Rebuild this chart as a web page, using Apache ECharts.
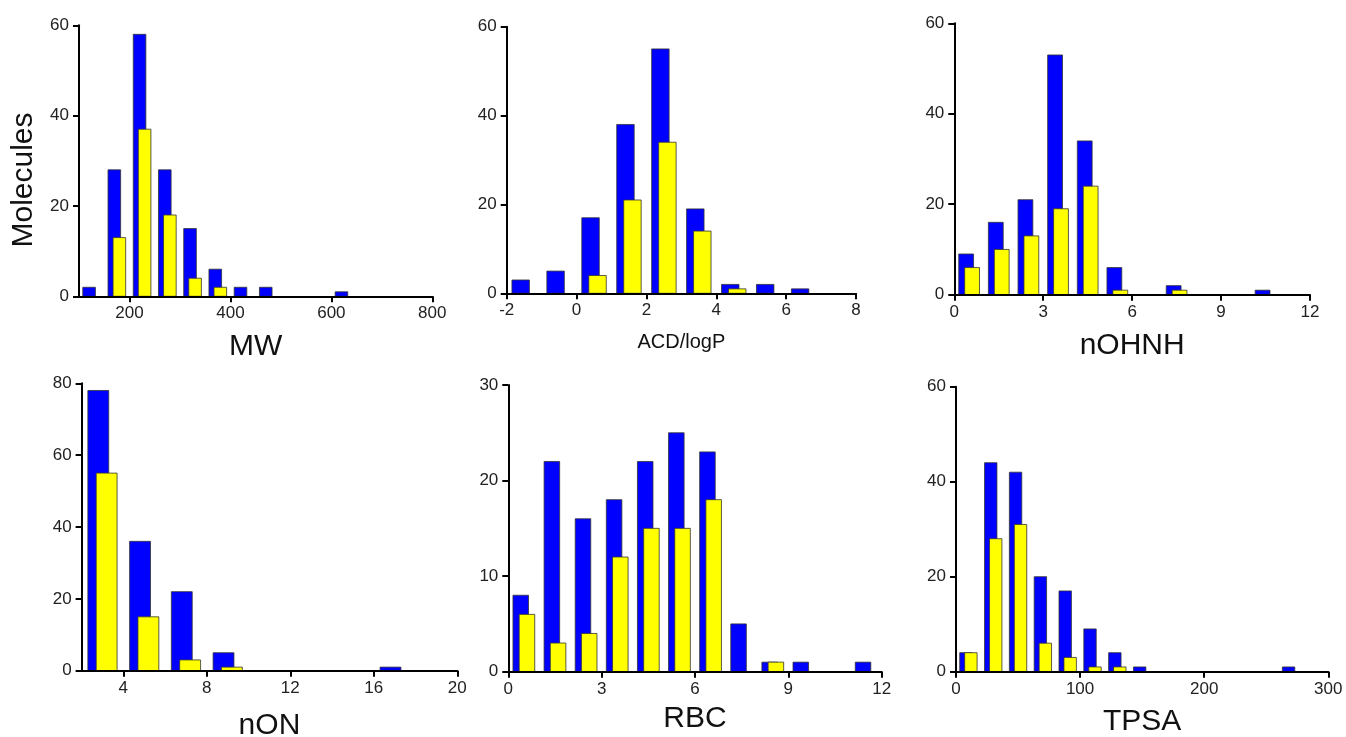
<!DOCTYPE html>
<html>
<head>
<meta charset="utf-8">
<script src="https://cdn.jsdelivr.net/npm/echarts@6/dist/echarts.min.js"></script>
<style>
html,body{margin:0;padding:0;background:#fff;}
#chart{width:1346px;height:737px;}
</style>
</head>
<body>
<div id="chart"></div>
<script>
// ---- data (bin centres, blue counts, yellow counts, tick labels) ----
const mwBins    = [125, 175, 225, 275, 325, 375, 425, 475, 625];
const mwBlue    = [2, 28, 58, 28, 15, 6, 2, 2, 1];
const mwYellow  = [null, 13, 37, 18, 4, 2, null, null, null];
const mwTicks   = [200, 400, 600, 800];

const logpBins   = [-1.5, -0.5, 0.5, 1.5, 2.5, 3.5, 4.5, 5.5, 6.5];
const logpBlue   = [3, 5, 17, 38, 55, 19, 2, 2, 1];
const logpYellow = [null, null, 4, 21, 34, 14, 1, null, null];
const logpTicks  = [-2, 0, 2, 4, 6, 8];

const ohnhBins   = [0.5, 1.5, 2.5, 3.5, 4.5, 5.5, 7.5, 10.5];
const ohnhBlue   = [9, 16, 21, 53, 34, 6, 2, 1];
const ohnhYellow = [6, 10, 13, 19, 24, 1, 1, null];
const ohnhTicks  = [0, 3, 6, 9, 12];

const onBins   = [3, 5, 7, 9, 17];
const onBlue   = [78, 36, 22, 5, 1];
const onYellow = [55, 15, 3, 1, null];
const onTicks  = [4, 8, 12, 16, 20];

const rbcBins   = [0.5, 1.5, 2.5, 3.5, 4.5, 5.5, 6.5, 7.5, 8.5, 9.5, 11.5];
const rbcBlue   = [8, 22, 16, 18, 22, 25, 23, 5, 1, 1, 1];
const rbcYellow = [6, 3, 4, 12, 15, 15, 18, null, 1, null, null];
const rbcTicks  = [0, 3, 6, 9, 12];

const tpsaBins   = [10, 30, 50, 70, 90, 110, 130, 150, 270];
const tpsaBlue   = [4, 44, 42, 20, 17, 9, 4, 1, 1];
const tpsaYellow = [4, 28, 31, 6, 3, 1, 1, null, null];
const tpsaTicks  = [0, 100, 200, 300];

const yLabel = 'Molecules';

// ---- panels ----
const panels = [
  {name:'MW', bins:mwBins, blue:mwBlue, yellow:mwYellow, ticks:mwTicks, binW:50, xMin:100, xMax:800, yMax:60, yInt:20,
   grid:{left:79, top:25.3, width:353.3, height:271}, nameSize:30, nameGap:35},
  {name:'ACD/logP', bins:logpBins, blue:logpBlue, yellow:logpYellow, ticks:logpTicks, binW:1, xMin:-2, xMax:8, yMax:60, yInt:20,
   grid:{left:506.7, top:26.7, width:349.3, height:266.6}, nameSize:20, nameGap:39},
  {name:'nOHNH', bins:ohnhBins, blue:ohnhBlue, yellow:ohnhYellow, ticks:ohnhTicks, binW:1, xMin:0, xMax:12, yMax:60, yInt:20,
   grid:{left:954.3, top:23.3, width:355.7, height:271.4}, nameSize:30, nameGap:36},
  {name:'nON', bins:onBins, blue:onBlue, yellow:onYellow, ticks:onTicks, binW:2, xMin:2, xMax:20, yMax:80, yInt:20,
   grid:{left:81.6, top:383.3, width:375.7, height:287.4}, nameSize:30, nameGap:40},
  {name:'RBC', bins:rbcBins, blue:rbcBlue, yellow:rbcYellow, ticks:rbcTicks, binW:1, xMin:0, xMax:12, yMax:30, yInt:10,
   grid:{left:508.3, top:385, width:373.4, height:286.7}, nameSize:30, nameGap:32},
  {name:'TPSA', bins:tpsaBins, blue:tpsaBlue, yellow:tpsaYellow, ticks:tpsaTicks, binW:20, xMin:0, xMax:300, yMax:60, yInt:20,
   grid:{left:956, top:386.7, width:372.3, height:285}, nameSize:30, nameGap:35}
];

const FONT = 'Liberation Sans, Arial, sans-serif';
const TEXT = '#222';

function makeRender(binW, offset, fill) {
  return function (params, api) {
    const x = api.value(0), y = api.value(1);
    const p0 = api.coord([x + (offset - 0.25) * binW, y]);
    const p1 = api.coord([x + (offset + 0.25) * binW, 0]);
    return {
      type: 'rect',
      shape: {x: p0[0], y: p0[1], width: p1[0] - p0[0], height: p1[1] - p0[1]},
      style: {fill: fill, stroke: '#333', lineWidth: 0.8}
    };
  };
}

const grids = [], xAxes = [], yAxes = [], series = [];
panels.forEach((p, i) => {
  grids.push(Object.assign({containLabel:false, outerBoundsMode:'none'}, p.grid));
  xAxes.push({
    type:'value', gridIndex:i, min:p.xMin, max:p.xMax, z:10,
    name:p.name, nameLocation:'middle', nameGap:p.nameGap,
    nameTextStyle:{fontSize:p.nameSize, color:'#111', fontFamily:FONT},
    axisLine:{show:true, onZero:false, lineStyle:{color:'#000', width:2}},
    axisTick:{show:true, inside:false, length:6, lineStyle:{color:'#000', width:2}, customValues:p.ticks},
    axisLabel:{fontSize:17, color:TEXT, fontFamily:FONT, margin:9, customValues:p.ticks},
    splitLine:{show:false}
  });
  yAxes.push({
    type:'value', gridIndex:i, min:0, max:p.yMax, interval:p.yInt, z:10,
    axisLine:{show:true, onZero:false, lineStyle:{color:'#000', width:2}},
    axisTick:{show:true, inside:false, length:6, lineStyle:{color:'#000', width:2}},
    axisLabel:{fontSize:17, color:TEXT, fontFamily:FONT, margin:10},
    splitLine:{show:false}
  });
  const blueData = [], yellowData = [];
  p.bins.forEach((b, k) => {
    if (p.blue[k] != null) blueData.push([b, p.blue[k]]);
    if (p.yellow[k] != null) yellowData.push([b, p.yellow[k]]);
  });
  series.push({type:'custom', xAxisIndex:i, yAxisIndex:i, data:blueData,
    renderItem:makeRender(p.binW, -0.1, '#0000ff'), z:2});
  series.push({type:'custom', xAxisIndex:i, yAxisIndex:i, data:yellowData,
    renderItem:makeRender(p.binW, 0.1, '#ffff00'), z:3});
});

const chart = echarts.init(document.getElementById('chart'), null, {renderer:'canvas'});
chart.setOption({
  backgroundColor:'#ffffff',
  animation:false,
  grid:grids, xAxis:xAxes, yAxis:yAxes, series:series,
  graphic:[{
    type:'text', x:24, y:180, rotation:Math.PI/2,
    style:{text:yLabel, fontSize:30, fontFamily:FONT, fill:'#111', align:'center', verticalAlign:'middle'}
  }]
});
</script>
</body>
</html>
